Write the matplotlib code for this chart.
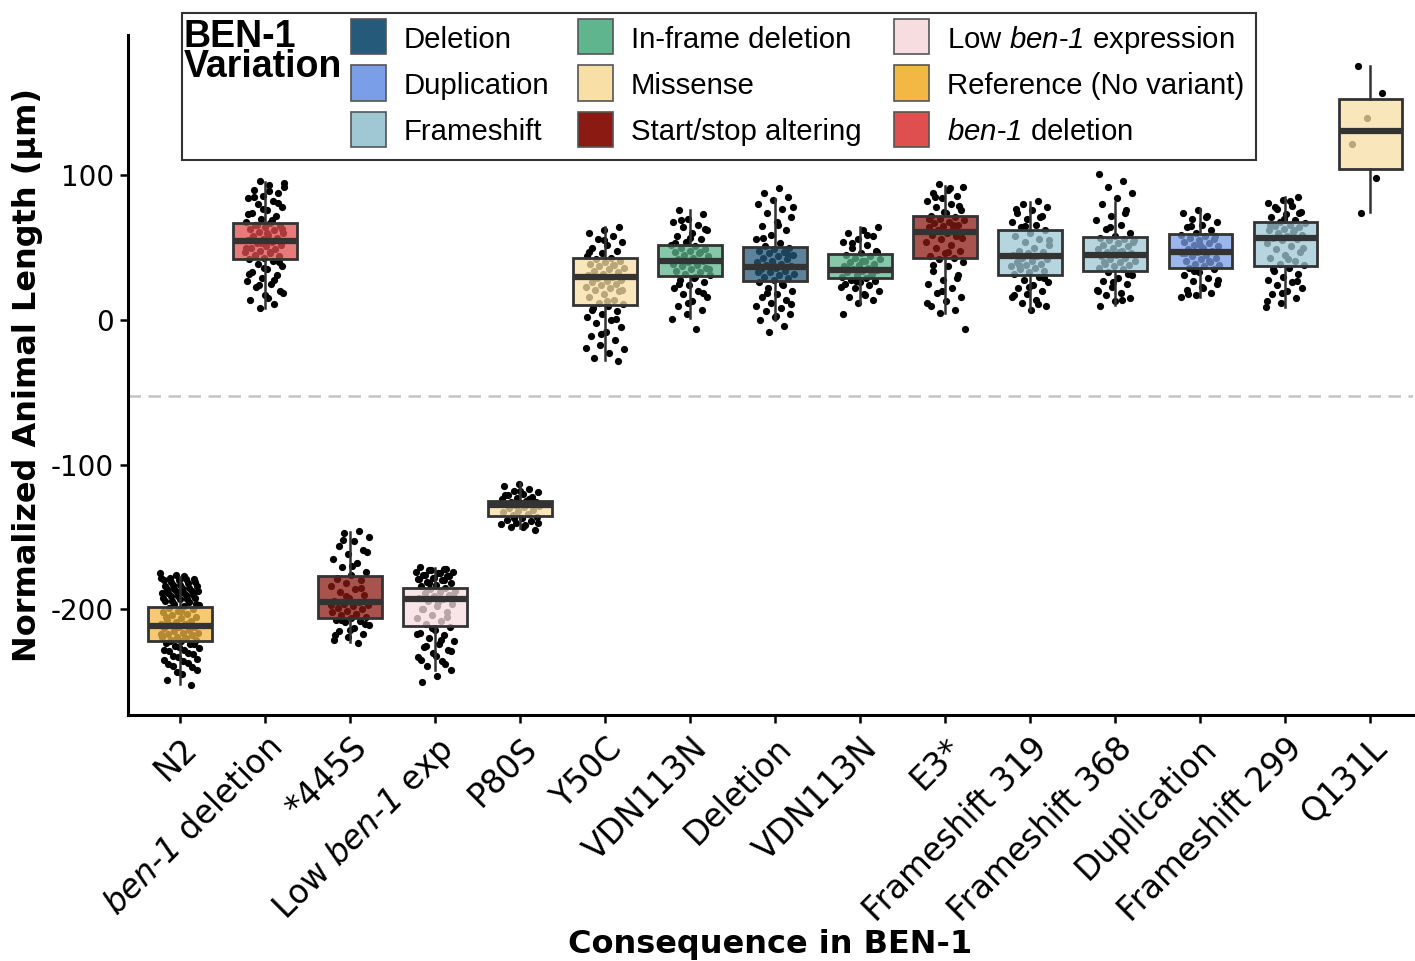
import matplotlib
matplotlib.use("Agg")
import matplotlib.pyplot as plt
from matplotlib.patches import Rectangle

plt.rcParams["mathtext.fontset"] = "custom"
plt.rcParams["mathtext.rm"] = "DejaVu Sans"
plt.rcParams["mathtext.sf"] = "DejaVu Sans:italic"
plt.rcParams["mathtext.cal"] = "Liberation Sans:italic"

# x categories and their variant class
labels = ["N2", "$\\mathsf{ben}$-$\\mathsf{1}$ deletion", "*445S", "Low $\\mathsf{ben}$-$\\mathsf{1}$ exp",
          "P80S", "Y50C", "VDN113N", "Deletion", "VDN113N", "E3*", "Frameshift 319", "Frameshift 368",
          "Duplication", "Frameshift 299", "Q131L"]
variation = ["Reference (No variant)", "ben-1 deletion", "Start/stop altering", "Low ben-1 expression",
             "Missense", "Missense", "In-frame deletion", "Deletion", "In-frame deletion",
             "Start/stop altering", "Frameshift", "Frameshift", "Duplication", "Frameshift", "Missense"]

# legend order (column-wise) and colours
legend_names = ["Deletion", "Duplication", "Frameshift",
                "In-frame deletion", "Missense", "Start/stop altering",
                "Low ben-1 expression", "Reference (No variant)", "ben-1 deletion"]
legend_text = ["Deletion", "Duplication", "Frameshift",
               "In-frame deletion", "Missense", "Start/stop altering",
               "Low $\\mathcal{ben}$-$\\mathcal{1}$ expression", "Reference (No variant)",
               "$\\mathcal{ben}$-$\\mathcal{1}$ deletion"]
legend_colors = ["#255A7A", "#7A9EE8", "#9FC8D4",
                 "#5FB58E", "#F8DFA5", "#8B1A12",
                 "#F8DDE0", "#F3B843", "#E04F4F"]

# box summaries
q1 = [-221.8, 41.9, -205.7, -211.2, -135.2, 10.4, 30.4, 27.0, 28.8, 42.6, 31.1, 34.1, 35.7, 37.6, 104.1]
med = [-211.2, 54.8, -195.1, -193.1, -128.1, 29.5, 40.8, 36.9, 34.6, 60.6, 44.0, 45.1, 47.2, 56.5, 130.6]
q3 = [-198.6, 67.3, -177.2, -185.2, -125.1, 43.1, 51.8, 50.2, 45.6, 71.7, 62.2, 57.6, 59.4, 68.0, 152.5]
whis_lo = [-251.6, 8.1, -222.8, -241.9, -144.0, -27.6, 1.4, 0.0, 11.5, 4.6, 6.9, 10.4, 16.1, 9.2, 74.8]
whis_hi = [-177.4, 95.6, -146.3, -171.6, -112.9, 64.5, 76.0, 83.4, 64.5, 92.8, 81.8, 81.8, 76.5, 85.2, 175.5]

# individual animals (estimated)
n2_vals = [-175, -177, -178, -179, -180, -180, -182, -183, -184, -185, -186, -187, -188, -189, -190, -191,
           -192, -193, -194, -195, -196, -197, -198, -199, -200, -201, -202, -203, -204, -205, -206, -207,
           -208, -209, -210, -210, -211, -212, -212, -213, -214, -215, -216, -216, -217, -218, -219, -219,
           -220, -221, -221, -222, -223, -224, -225, -227, -228, -229, -231, -233, -235, -237, -239, -242,
           -245, -249, -252,
           -176, -178, -179, -181, -181, -183, -184, -185, -186, -187, -188, -189, -190, -191, -192, -193,
           -194, -196, -201, -205, -209, -213, -217, -220, -222, -224, -226, -228, -230, -232, -234, -236,
           -238, -240, -243]
ben1_del_vals = [96, 95, 93, 90, 88, 86, 84, 82, 80, 78, 76, 74, 72, 70, 68, 67, 66, 65, 64, 63, 62, 61, 60,
                 59, 58, 57, 56, 55, 54, 53, 52, 51, 50, 49, 48, 47, 46, 45, 44, 43, 42, 41, 39, 37, 35, 33,
                 31, 29, 27, 25, 23, 20, 17, 14, 11, 8,
                 92, 89, 85, 81, 77, 73, 69, 66, 63, 60, 57, 55, 53, 50, 47, 44, 40, 36, 32, 28, 24, 19, 15]
s445_vals = [-146, -147, -150, -153, -156, -159, -162, -165, -168, -171, -174, -176, -178, -180, -182, -184,
             -186, -188, -190, -192, -194, -195, -196, -197, -198, -199, -200, -201, -202, -203, -204, -205,
             -206, -207, -208, -209, -211, -213, -215, -217, -219, -221, -223,
             -152, -160, -170, -179, -185, -191, -197, -203, -207, -210, -214, -218]
low_vals = [-171, -172, -173, -174, -175, -176, -177, -178, -179, -180, -181, -182, -183, -184, -185, -186,
            -187, -188, -189, -190, -191, -192, -193, -194, -196, -198, -200, -202, -204, -206, -208, -210,
            -212, -214, -216, -218, -220, -222, -224, -226, -228, -230, -233, -236, -239, -242, -246, -250,
            -172, -173, -174, -175, -176, -177, -178, -179, -180, -182, -190, -195, -200, -205, -213, -217,
            -221, -225, -229, -232, -235, -238]
p80s_vals = [-113, -115, -117, -118, -119, -120, -121, -122, -123, -124, -125, -125.5, -126, -126.5, -127,
             -127.5, -128, -128.5, -129, -130, -131, -132, -133, -134, -135, -136, -137, -138, -139, -140,
             -141, -142, -143, -145, -118, -121, -124, -137, -140, -143]
y50c_vals = [64, 62, 60, 58, 56, 54, 52, 50, 48, 46, 44, 43, 42, 41, 40, 39, 38, 37, 36, 35, 34, 33, 32, 31,
             30, 29, 28, 27, 26, 25, 24, 23, 22, 21, 20, 18, 16, 14, 12, 11, 10, 8, 6, 4, 2, 0, -2, -5, -8,
             -11, -14, -17, -20, -23, -26, -28, 55, 47, 38, 30, 21, 13, 7, 1, -10, -19]
vdn_a_vals = [76, 73, 70, 68, 66, 64, 62, 60, 58, 56, 54, 52, 51, 50, 49, 48, 47, 46, 45, 44, 43, 42, 41, 40,
              39, 38, 37, 36, 35, 34, 33, 32, 31, 30, 28, 26, 24, 22, 20, 18, 16, 13, 10, 7, 4, 1, -6,
              69, 63, 57, 53, 47, 41, 35, 29, 25, 19, 12]
deletion_vals = [91, 88, 85, 83, 80, 77, 74, 71, 68, 65, 62, 59, 56, 53, 51, 50, 49, 48, 47, 46, 45, 44, 43,
                 42, 41, 40, 39, 38, 37, 36, 35, 34, 33, 32, 31, 30, 29, 28, 26, 24, 22, 20, 18, 16, 14, 12,
                 10, 8, 6, 4, 2, 0, -4, -8, 78, 66, 57, 45, 38, 33, 25, 19, 11, 3]
vdn_b_vals = [64, 62, 60, 58, 56, 54, 52, 50, 48, 46, 45, 44, 43, 42, 41, 40, 39, 38, 37, 36, 35, 34.5, 34,
              33, 32, 31, 30, 29, 28, 27, 26, 25, 24, 22, 20, 18, 16, 14, 12, 4,
              59, 53, 47, 41, 36, 31, 27, 23, 17]
e3_vals = [94, 92, 90, 88, 86, 84, 82, 80, 78, 76, 74, 72, 71, 70, 69, 68, 67, 66, 65, 64, 63, 62, 61, 60,
           59, 58, 56, 54, 52, 50, 48, 46, 44, 43, 42, 40, 37, 34, 31, 28, 25, 22, 19, 16, 13, 10, 7, 5, -6,
           91, 85, 79, 75, 70, 66, 62, 57, 47, 38, 29, 20, 12]
fs319_vals = [82, 80, 78, 76, 74, 72, 70, 68, 66, 64, 62, 60, 58, 56, 54, 52, 50, 48, 47, 46, 45, 44, 43, 42,
              41, 40, 39, 38, 37, 36, 35, 34, 33, 32, 30, 28, 26, 24, 22, 20, 18, 16, 14, 12, 10, 7,
              77, 71, 65, 55, 44, 38, 29, 23, 17, 11]
fs368_vals = [101, 96, 92, 88, 84, 80, 76, 72, 69, 66, 63, 60, 58, 57, 56, 55, 54, 53, 52, 51, 50, 49, 48,
              47, 46, 45, 44, 43, 42, 41, 40, 39, 38, 37, 36, 35, 33, 31, 29, 27, 25, 23, 21, 19, 17, 15, 13,
              10, 74, 64, 55, 47, 40, 32, 26, 20, 14]
dup_vals = [76, 74, 72, 70, 68, 66, 64, 62, 60, 59, 58, 57, 56, 55, 54, 53, 52, 51, 50, 49, 48, 47, 46, 45,
            44, 43, 42, 41, 40, 39, 38, 37, 36, 35, 33, 31, 29, 27, 25, 23, 21, 19, 17, 16,
            71, 65, 58, 52, 46, 41, 34, 28, 22, 18]
fs299_vals = [85, 83, 81, 79, 77, 75, 73, 71, 69, 68, 67, 66, 65, 64, 63, 62, 61, 60, 59, 58, 57, 56, 55, 53,
              51, 49, 47, 45, 43, 41, 39, 38, 36, 34, 32, 30, 28, 26, 24, 22, 20, 18, 15, 12, 9,
              82, 78, 74, 70, 66, 62, 58, 50, 42, 35, 27, 19, 13]
q131l_vals = [175.5, 156.7, 139.8, 121.8, 98.3, 74.1]

points = [n2_vals, ben1_del_vals, s445_vals, low_vals, p80s_vals, y50c_vals, vdn_a_vals, deletion_vals,
          vdn_b_vals, e3_vals, fs319_vals, fs368_vals, dup_vals, fs299_vals, q131l_vals]

color_of = dict(zip(legend_names, legend_colors))

W, H = 1415, 961
fig = plt.figure(figsize=(W / 100, H / 100), dpi=100)
ax = fig.add_axes([128 / W, 1 - 715 / H, (1413 - 128) / W, (715 - 35) / H])

# jittered points under the boxes
for i, vals in enumerate(points):
    xs = [i + ((j * 0.6180339887 + i * 0.37) % 1 - 0.5) * 0.46 for j in range(len(vals))]
    ax.scatter(xs, vals, s=27, color="black", linewidths=0, zorder=2)

stats = []
for i in range(len(labels)):
    stats.append(dict(med=med[i], q1=q1[i], q3=q3[i], whislo=whis_lo[i], whishi=whis_hi[i]))

bp = ax.bxp(stats, positions=range(len(labels)), widths=0.75, patch_artist=True,
            showfliers=False, showcaps=False,
            boxprops=dict(edgecolor="#333333", linewidth=2.0),
            medianprops=dict(color="#333333", linewidth=4.5),
            whiskerprops=dict(color="#333333", linewidth=1.8), manage_ticks=False)
for i, box in enumerate(bp["boxes"]):
    c = matplotlib.colors.to_rgba(color_of[variation[i]], 0.75)
    box.set_facecolor(c)
    box.set_zorder(3)
for ln in bp["whiskers"] + bp["medians"]:
    ln.set_zorder(4)

ax.axhline(-52.5, color="#c4c4c4", linestyle=(0, (5, 3)), linewidth=1.8, zorder=1)

ax.set_xlim(-0.61, 14.5)
ax.set_ylim(-273, 197)
ax.set_yticks([-200, -100, 0, 100])
ax.set_yticklabels(["-200", "-100", "0", "100"])
ax.set_xticks(range(len(labels)))
ax.set_xticklabels(labels, rotation=45, ha="right", va="top", rotation_mode="anchor", fontsize=23.5)
ax.tick_params(axis="y", labelsize=20, length=6, width=1.8, pad=4)
ax.tick_params(axis="x", length=6, width=1.8, pad=6)
for side in ["top", "right"]:
    ax.spines[side].set_visible(False)
for side in ["left", "bottom"]:
    ax.spines[side].set_linewidth(2.2)

ax.set_ylabel("Normalized Animal Length (µm)", fontsize=23, fontweight="bold")
ax.yaxis.set_label_coords(-0.066, 0.5)
ax.set_xlabel("Consequence in BEN-1", fontsize=23, fontweight="bold")
ax.xaxis.set_label_coords(0.5, -0.315)


# hand-built legend box in pixel coords
def px(x, y):
    return x / W, 1 - y / H


x0, y0 = px(182, 160)
fig.patches.append(Rectangle((x0, y0), (1256 - 182) / W, (160 - 13) / H, transform=fig.transFigure,
                             facecolor="white", edgecolor="#333333", linewidth=1.5, zorder=5))
fig.text(*px(184, 52), "BEN-1\nVariation", fontsize=27, fontweight="bold", family="Liberation Sans",
         ha="left", va="center", linespacing=0.82, zorder=6)
col_x = [351, 578, 894]
row_y = [36.5, 83, 129.5]
for k, name in enumerate(legend_text):
    cx = col_x[k // 3]
    cy = row_y[k % 3]
    bx, by = px(cx, cy + 17.5)
    fig.patches.append(Rectangle((bx, by), 35 / W, 35 / H, transform=fig.transFigure,
                                 facecolor=legend_colors[k], edgecolor="#555555", linewidth=1.2, zorder=6))
    fig.text(*px(cx + 53, cy), name, fontsize=21.2, family="Liberation Sans", ha="left",
             va="center_baseline", zorder=6)

fig.savefig("out.png", dpi=100)
